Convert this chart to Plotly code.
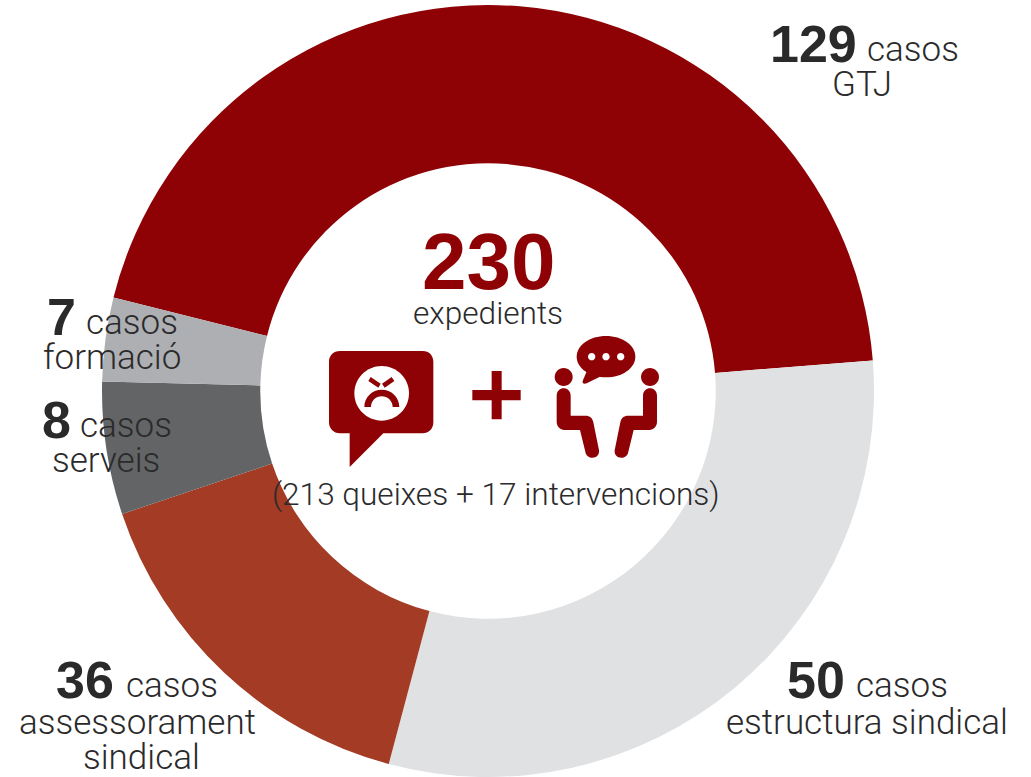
import re
import plotly.graph_objects as go

W, H = 1031, 777

# Values as printed on the chart
case_counts = [129, 50, 36, 8, 7]
categories = ["GTJ", "estructura sindical", "assessorament sindical", "serveis", "formació"]
# Share of the ring each slice occupies in the picture (the ring is not drawn to the printed counts)
ring_shares = [44.85, 30.4, 15.7, 5.55, 3.5]
slice_colors = ["#8e0205", "#e0e1e3", "#a33b25", "#636466", "#aeafb2"]
total_cases = 230
centre_note = "(213 queixes + 17 intervencions)"

DARK = "#2b2a2b"
RED = "#8e0205"
FONT = "Roboto"
BOLD = "Liberation Sans"


def px(x):
    return x / W


def py(y):
    return 1 - y / H


def to_paper(path, ox=0.0, oy=0.0, scale=1.0):
    toks = re.findall(r"[A-Za-z]|-?\d+\.?\d*", path)
    out, is_x = [], True
    for t in toks:
        if t.isalpha():
            out.append(t)
            is_x = True
        else:
            v = float(t) * scale
            out.append(f"{px(v + ox):.5f}" if is_x else f"{py(v + oy):.5f}")
            is_x = not is_x
    return " ".join(out)


def circle(cx, cy, rx, ry=None):
    ry = rx if ry is None else ry
    k = 0.5523
    return (f"M{cx-rx} {cy} C{cx-rx} {cy-k*ry} {cx-k*rx} {cy-ry} {cx} {cy-ry} "
            f"C{cx+k*rx} {cy-ry} {cx+rx} {cy-k*ry} {cx+rx} {cy} "
            f"C{cx+rx} {cy+k*ry} {cx+k*rx} {cy+ry} {cx} {cy+ry} "
            f"C{cx-k*rx} {cy+ry} {cx-rx} {cy+k*ry} {cx-rx} {cy} Z")


# icon outlines, in units of 1/3 px relative to (310, 325)
bubble = ("M90 78 L338 78 C358 78 370 92 370 110 L370 292 C370 312 356 325 338 325 L220 325 "
          "L119 426 L119 325 L90 325 C70 325 57 310 57 292 L57 110 C57 92 70 78 90 78 Z")
brow_l = "M182 156 L212 176 L205 188 L175 168 Z"
brow_r = "M245 156 L253 168 L224 188 L216 176 Z"
frown = ("M163 246 C163 216 187 194 215 194 C244 194 268 216 268 246 L248 246 "
         "C248 228 233 214 215 214 C197 214 183 228 183 246 Z")
plus = ("M545 138 L575 138 L575 195 L632 195 L632 226 L575 226 L575 283 L545 283 L545 226 "
        "L487 226 L487 195 L545 195 Z")
talk_tail = "M832 135 L818 168 C816 176 822 178 830 175 L870 155 Z"
person_l = ("M740 212 C740 182 782 182 782 212 L782 272 L826 272 C840 272 848 280 850 292 "
            "L867 376 C870 404 830 406 826 380 L810 315 L768 315 C750 315 740 304 740 290 Z")


def mirror(path, axis=1781):
    toks = re.findall(r"[A-Za-z]|-?\d+\.?\d*", path)
    out, is_x = [], True
    for t in toks:
        if t.isalpha():
            out.append(t)
            is_x = True
        else:
            out.append(str(axis - float(t)) if is_x else t)
            is_x = not is_x
    return " ".join(out)


ZOOM = dict(ox=310, oy=325, scale=1 / 3)
icon_paths = [
    (bubble, RED), (circle(215, 205, 82), "#ffffff"), (brow_l, RED), (brow_r, RED), (frown, RED),
    (plus, RED),
    (circle(888, 95, 88, 62), RED), (talk_tail, RED),
    (circle(845, 95, 11), "#ffffff"), (circle(888, 95, 11), "#ffffff"), (circle(932, 95, 11), "#ffffff"),
    (circle(761, 156, 27), RED), (circle(1020, 156, 27), RED),
    (person_l, RED), (mirror(person_l), RED),
]
shapes = [dict(type="path", xref="paper", yref="paper", layer="above",
               path=to_paper(p, **ZOOM), fillcolor=c, line=dict(width=0))
          for p, c in icon_paths]

fig = go.Figure(go.Pie(
    labels=categories, values=ring_shares, sort=False, direction="clockwise", rotation=284,
    hole=0.59, textinfo="none", hoverinfo="skip", showlegend=False,
    marker=dict(colors=slice_colors, line=dict(width=0)),
    domain=dict(x=[px(488 - 386), px(488 + 386)], y=[py(777), py(5)]),
))


def note(x, y, text, size=35, color=DARK, family=FONT, weight=300):
    return dict(xref="paper", yref="paper", x=px(x), y=py(y), xanchor="center", yanchor="middle",
                text=text, showarrow=False, align="center",
                font=dict(family=family, size=size, color=color, weight=weight), borderpad=0)


def head(x_num, x_word, y, count):
    return [note(x_num, y, f"<b>{count}</b>", size=52, family=BOLD, weight=700),
            note(x_word, y + 5, "casos")]


annotations = [
    *head(813, 913, 44, case_counts[0]), note(862, 84, categories[0]),
    *head(816, 902, 680, case_counts[1]), note(867, 722, categories[1]),
    *head(85, 172, 680, case_counts[2]), note(137, 722, "assessorament"), note(141, 757, "sindical"),
    *head(61, 132, 317, case_counts[4]), note(112, 357, categories[4]),
    *head(56, 126, 420, case_counts[3]), note(106, 460, categories[3]),
    note(488, 262, f"<b>{total_cases}</b>", size=80, color=RED, family=BOLD, weight=700),
    note(488, 314, "expedients", size=31.6),
    note(496, 495, centre_note, size=31.6),
]

fig.update_layout(width=W, height=H, margin=dict(l=0, r=0, t=0, b=0), autosize=False,
                  paper_bgcolor="#ffffff", plot_bgcolor="#ffffff",
                  shapes=shapes, annotations=annotations)
fig.write_html("out.html", config=dict(displayModeBar=False),
               post_script="document.body.style.margin='0';document.body.style.overflow='hidden';")
